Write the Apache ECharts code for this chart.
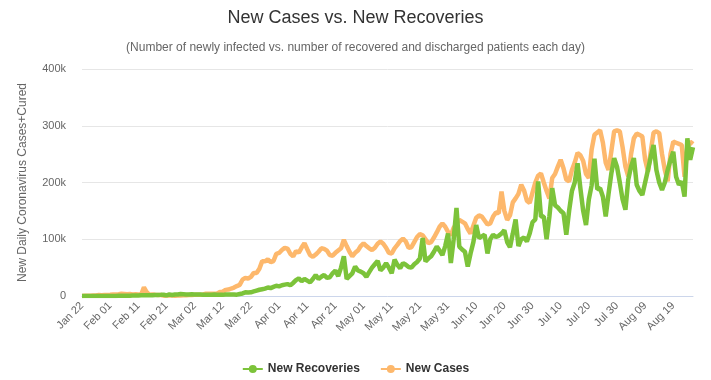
<!DOCTYPE html>
<html><head><meta charset="utf-8">
<script src="https://cdn.jsdelivr.net/npm/echarts@6/dist/echarts.min.js"></script>
<style>html,body{margin:0;padding:0;background:#fff}#c{width:711px;height:380px}</style>
</head><body><div id="c"></div>
<script>
// ---- data ----
const startYear = 2020, startMonth = 0, startDay = 22; // Jan 22, 2020
const dayCount = 218;
const monthNames = ['Jan','Feb','Mar','Apr','May','Jun','Jul','Aug','Sep','Oct','Nov','Dec'];
const yTickValues = [0, 100000, 200000, 300000, 400000];

const newCases = [
  // Jan 22-31
  100, 290, 270, 570, 690, 810, 1750, 1470, 1740, 1980,
  // Feb
  2100, 2590, 2820, 3240, 3910, 3740, 3160, 3470, 2700, 3010, 2600, 2020, 15150, 6530, 2100, 2600, 2100, 1900, 1800, 600, 1000, 1100, 700, 500, 900, 1000, 1200, 1400, 1900,
  // Mar
  1900, 2000, 2400, 2200, 2800, 4000, 3900, 4000, 3900, 4600, 7200, 7500, 10800, 11300, 13200, 14900, 17500, 19600, 28700, 31800, 30900, 33800, 40700, 40500, 48100, 61400, 61100, 64500, 59800, 61600, 74200,
  // Apr
  75800, 81000, 84800, 83500, 74400, 69900, 79000, 76500, 85400, 93000, 82300, 72000, 69000, 73000, 78000, 84000, 83000, 80000, 72000, 71000, 76000, 80000, 84000, 99000, 88000, 78000, 70000, 76000, 80000, 88000,
  // May
  93000, 88000, 84000, 81000, 85000, 92000, 96000, 92000, 85000, 76000, 75000, 84000, 90000, 97000, 101000, 96000, 85000, 86000, 95000, 104000, 109000, 107000, 100000, 93000, 95000, 103000, 112000, 122000, 128000, 122000, 113000,
  // Jun
  107000, 120000, 127000, 134000, 131000, 128000, 118000, 110000, 124000, 138000, 142000, 140000, 133000, 126000, 128000, 140000, 147000, 146000, 184000, 150000, 134000, 142000, 165000, 172000, 180000, 196000, 186000, 168000, 164000, 182000,
  // Jul
  200000, 212000, 216000, 200000, 185000, 172000, 208000, 215000, 228000, 240000, 225000, 205000, 202000, 222000, 235000, 252000, 248000, 238000, 215000, 208000, 258000, 284000, 288000, 292000, 270000, 235000, 222000, 255000, 290000, 292000, 290000,
  // Aug 1-26
  262000, 228000, 211000, 250000, 278000, 286000, 284000, 281000, 240000, 219000, 255000, 288000, 290000, 287000, 250000, 222000, 202000, 250000, 272000, 270000, 268000, 266000, 210000, 262000, 272000, 268000
];

const newRecoveries = [
  // Jan 22-31
  30, 5, 5, 10, 15, 25, 40, 25, 45, 80,
  // Feb
  90, 140, 150, 260, 270, 370, 610, 620, 720, 730, 710, 1160, 1120, 1380, 1510, 1470, 1850, 1840, 2050, 2290, 1170, 2650, 1820, 2640, 2730, 3380, 3000, 2560, 2720,
  // Mar
  3000, 2700, 2600, 2700, 2400, 2100, 2200, 2200, 2500, 2300, 2000, 2000, 2500, 2600, 2600, 2700, 2400, 3500, 4500, 6500, 6000, 6500, 8000, 9500, 11000, 12000, 13000, 15000, 14000, 16000, 18000,
  // Apr
  17000, 19000, 20000, 21000, 19000, 23000, 28000, 31000, 26000, 30000, 27000, 24000, 30000, 37000, 30000, 34000, 37000, 32000, 33000, 40000, 45000, 35000, 50000, 70000, 30000, 35000, 40000, 52000, 45000, 43000,
  // May
  40000, 34000, 42000, 50000, 56000, 62000, 45000, 50000, 58000, 50000, 40000, 64000, 55000, 49000, 58000, 55000, 51000, 50000, 56000, 60000, 66000, 102000, 61000, 66000, 70000, 78000, 87000, 80000, 72000, 88000, 110000,
  // Jun
  58000, 100000, 155000, 87000, 82000, 78000, 52000, 75000, 95000, 125000, 102000, 105000, 108000, 75000, 100000, 108000, 104000, 106000, 110000, 116000, 95000, 86000, 110000, 135000, 88000, 100000, 103000, 96000, 110000, 130000,
  // Jul
  135000, 202000, 140000, 140000, 100000, 140000, 190000, 160000, 156000, 150000, 146000, 108000, 150000, 185000, 200000, 234000, 190000, 150000, 125000, 170000, 195000, 242000, 188000, 190000, 175000, 140000, 180000, 216000, 243000, 228000, 200000,
  // Aug 1-26
  170000, 152000, 205000, 228000, 243000, 196000, 185000, 178000, 200000, 222000, 245000, 266000, 222000, 200000, 187000, 200000, 222000, 240000, 254000, 210000, 196000, 202000, 175000, 278000, 240000, 262000
];

// category labels: "Jan 22", "Feb 01", ...
const categories = [];
for (let i = 0; i < dayCount; i++) {
  const d = new Date(Date.UTC(startYear, startMonth, startDay + i));
  const dd = String(d.getUTCDate()).padStart(2, '0');
  categories.push(monthNames[d.getUTCMonth()] + ' ' + dd);
}

const FONT = '"Liberation Sans", Arial, sans-serif';
const chart = echarts.init(document.getElementById('c'), null, {renderer: 'canvas'});
chart.setOption({
  animation: false,
  backgroundColor: '#ffffff',
  title: [
    {
      text: 'New Cases vs. New Recoveries',
      left: 'center', top: 4,
      textStyle: {fontFamily: FONT, fontSize: 18, fontWeight: 'normal', color: '#333333'}
    },
    {
      text: '(Number of newly infected vs. number of recovered and discharged patients each day)',
      left: 'center', top: 37,
      textStyle: {fontFamily: FONT, fontSize: 12, fontWeight: 'normal', color: '#666666'}
    }
  ],
  legend: {
    data: ['New Recoveries', 'New Cases'],
    left: 'center', top: 358,
    itemWidth: 20, itemHeight: 10, itemGap: 20,
    textStyle: {fontFamily: FONT, fontSize: 12, fontWeight: 'bold', color: '#333333'}
  },
  grid: {left: 82, right: 18, top: 69, bottom: 84, containLabel: false},
  xAxis: {
    type: 'category',
    data: categories,
    boundaryGap: false,
    axisLine: {lineStyle: {color: '#ccd6eb', width: 1}},
    axisTick: {show: false},
    axisLabel: {
      interval: 9, rotate: 45, margin: 8,
      fontFamily: FONT, fontSize: 11, color: '#666666'
    },
    splitLine: {show: false}
  },
  yAxis: {
    type: 'value',
    min: yTickValues[0], max: yTickValues[yTickValues.length - 1], interval: 100000,
    name: 'New Daily Coronavirus Cases+Cured',
    nameLocation: 'middle', nameGap: 53, nameRotate: 90,
    nameTextStyle: {fontFamily: FONT, fontSize: 12, color: '#666666'},
    axisLine: {show: false},
    axisTick: {show: false},
    axisLabel: {
      margin: 16, fontFamily: FONT, fontSize: 11, color: '#666666',
      formatter: v => v === 0 ? '0' : (v / 1000) + 'k'
    },
    splitLine: {lineStyle: {color: '#e6e6e6', width: 1}}
  },
  series: [
    {
      name: 'New Recoveries', type: 'line', data: newRecoveries,
      color: '#7cc33a', symbol: 'circle', symbolSize: 8, showSymbol: false,
      lineStyle: {width: 4.5, color: '#7cc33a'}, z: 3
    },
    {
      name: 'New Cases', type: 'line', data: newCases,
      color: '#fdb86c', symbol: 'circle', symbolSize: 8, showSymbol: false,
      lineStyle: {width: 4.5, color: '#fdb86c'}, z: 2
    }
  ]
});
</script>
</body></html>
